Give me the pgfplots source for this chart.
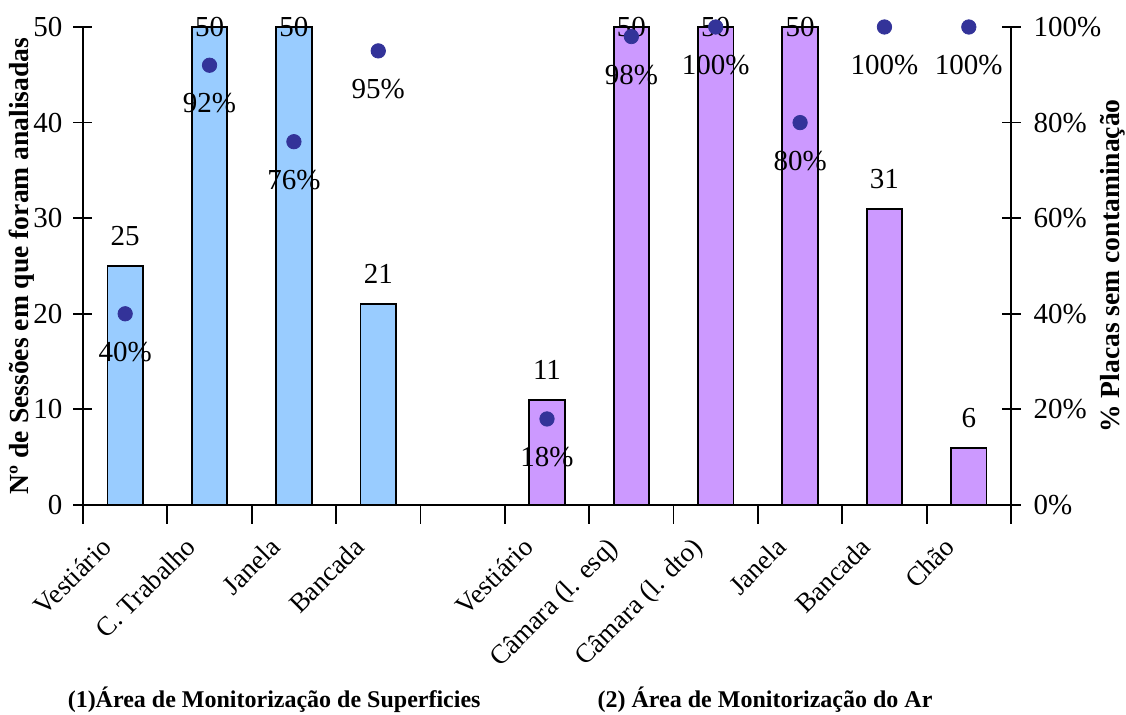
\documentclass[border=0pt]{standalone}
\usepackage{fontspec}
\setmainfont{Liberation Serif}
\usepackage{pgfplots}
\pgfplotsset{compat=1.18}
\definecolor{barblue}{HTML}{99CCFF}
\definecolor{barpurple}{HTML}{CC99FF}
\definecolor{dotblue}{HTML}{333399}
\newcommand{\tfont}{\fontsize{14.5}{16}\selectfont}
\begin{document}
\begin{tikzpicture}
\useasboundingbox (-41.5pt,-105pt) rectangle (521.5pt,252.5pt);
\pgfplotsset{
  common/.style={
    at={(0,0)}, anchor=south west,
    scale only axis, width=464pt, height=239pt,
    xmin=-0.5, xmax=10.5, clip=false,
    /pgf/number format/assume math mode=true,
    tick label style={font=\tfont},
    every axis label/.append style={font=\bfseries\fontsize{13.8}{16}\selectfont},
    tick align=center, major tick length=9.5pt,
    axis line style={line width=0.9pt},
    every tick/.style={black, line width=0.9pt},
  }
}
\begin{axis}[common,
  ybar, ymin=0, ymax=50,
  axis x line*=bottom, axis y line*=left,
  ytick={0,10,...,50},
  yticklabel style={xshift=-2pt},
  xtick={-0.5,0.5,...,10.5}, xticklabels={},
  extra x ticks={0,1,2,3,5,6,7,8,9,10},
  extra x tick labels={Vestiário, C. Trabalho, Janela, Bancada, Vestiário, Câmara (l. esq), Câmara (l. dto), Janela, Bancada, Chão},
  extra x tick style={major tick length=0pt, tick style={draw=none}},
  xticklabel style={font=\fontsize{13.5}{15}\selectfont, xshift=-12.8pt, yshift=-10.4pt, rotate=45, anchor=north east},
  ylabel={Nº de Sessões em que foram analisadas},
  ylabel style={at={([xshift=-30.5pt]axis description cs:0,0.5)}, anchor=center},
  every node near coord/.append style={font=\tfont, text=black},
]
\addplot[ybar, bar width=0.42, bar shift=0pt, fill=barblue, draw=black, line width=0.9pt,
  nodes near coords, point meta=y,
  visualization depends on={rawy \as \rawy},
  nodes near coords style={anchor=center, yshift={(\rawy<49)*15pt}}]
  coordinates {(0,25) (1,50) (2,50) (3,21)};
\addplot[ybar, bar width=0.42, bar shift=0pt, fill=barpurple, draw=black, line width=0.9pt,
  nodes near coords, point meta=y,
  visualization depends on={rawy \as \rawy},
  nodes near coords style={anchor=center, yshift={(\rawy<49)*15pt}}]
  coordinates {(5,11) (6,50) (7,50) (8,50) (9,31) (10,6)};
\end{axis}
\begin{axis}[common,
  ymin=0, ymax=100,
  axis x line=none, axis y line*=right,
  ytick={0,20,...,100},
  yticklabel={\pgfmathprintnumber{\tick}\%},
  yticklabel style={xshift=3pt},
  ylabel={\% Placas sem contaminação},
  ylabel style={at={([xshift=51pt]axis description cs:1,0.5)}, anchor=center},
]
\addplot[only marks, mark=*, mark size=3.6pt, color=dotblue,
  nodes near coords={\pgfmathprintnumber{\pgfplotspointmeta}\%}, point meta=y,
  nodes near coords style={anchor=center, yshift=-19pt, text=black, font=\tfont}]
  coordinates {(0,40) (1,92) (2,76) (3,95) (5,18) (6,98) (7,100) (8,80) (9,100) (10,100)};
\node[font=\bfseries\fontsize{12}{14}\selectfont] at (rel axis cs:0.206,0) [yshift=-97.5pt] {(1)Área de Monitorização de Superficies};
\node[font=\bfseries\fontsize{12}{14}\selectfont] at (rel axis cs:0.735,0) [yshift=-97.5pt] {(2) Área de Monitorização do Ar};
\end{axis}
\end{tikzpicture}
\end{document}
